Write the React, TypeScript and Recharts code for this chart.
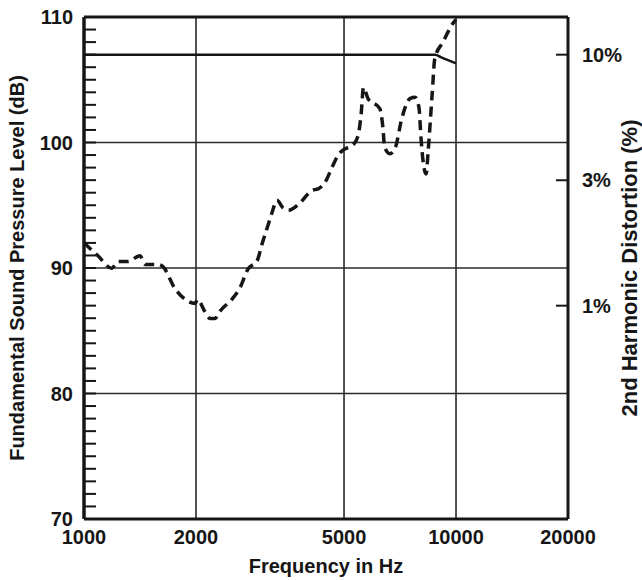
import { LineChart, Line, XAxis, YAxis, ReferenceLine, Label } from "recharts";

// axis ticks
const FREQ_TICKS = [1000, 2000, 5000, 10000, 20000];
const SPL_TICKS = Array.from({ length: 41 }, (_, i) => 70 + i); // 1 dB minor ticks
const DIST_TICKS = [1, 3.16, 10];
const DIST_LABELS = ["1%", "3%", "10%"];
const FREQ_GRID = [2000, 5000, 10000];
const SPL_GRID = [80, 90, 100];

// fundamental SPL (solid)
const fundFreq = [1000, 2000, 5000, 8800, 9100, 9450, 10000];
const fundSpl = [107, 107, 107, 107, 106.8, 106.6, 106.3];

// 2nd harmonic distortion in % (dashed)
const distFreq = [
  1000, 1090, 1187, 1234, 1313, 1414, 1459, 1580, 1630, 1756, 1870, 1990, 2020, 2110, 2180,
  2250, 2320, 2510, 2620, 2760, 2920, 3010, 3100, 3200, 3300, 3430, 3540, 3810, 4100, 4260,
  4440, 4640, 4820, 4970, 5290, 5460, 5560, 5640, 5800, 6240, 6360, 6430, 6640, 6850, 7160,
  7520, 7760, 7950, 8050, 8150, 8310, 8420, 8630, 8770, 9220, 9870, 10000,
];
const distPct = [
  1.78, 1.58, 1.41, 1.5, 1.5, 1.58, 1.46, 1.46, 1.43, 1.17, 1.06, 1.02, 1.06, 0.95, 0.89,
  0.89, 0.95, 1.07, 1.17, 1.4, 1.51, 1.76, 2.02, 2.34, 2.63, 2.45, 2.4, 2.57, 2.88, 2.92,
  3.09, 3.55, 3.98, 4.17, 4.37, 4.79, 5.82, 7.41, 6.68, 6.1, 5.13, 4.27, 4.03, 4.22, 5.62,
  6.68, 6.76, 6.17, 4.68, 3.8, 3.35, 4.17, 7.0, 9.66, 11.22, 13.49, 13.8,
];

const fundData = fundFreq.map((f, i) => ({ f, spl: fundSpl[i] }));
const distData = distFreq.map((f, i) => ({ f, pct: distPct[i] }));

const INK = "#161616";
const FONT = "'Liberation Sans', Arial, sans-serif";
const tickText = { fill: INK, fontSize: 20, fontWeight: 700, fontFamily: FONT };

export default function App() {
  return (
    <div style={{ position: "absolute", left: 0, top: 0, width: 642, height: 580, background: "#fff" }}>
      <LineChart width={642} height={580} margin={{ top: 17, right: 0, bottom: 0, left: 0 }}>
        <XAxis
          type="number"
          dataKey="f"
          scale="log"
          domain={[1000, 20000]}
          ticks={FREQ_TICKS}
          interval={0}
          allowDataOverflow
          height={61}
          tickSize={0}
          tickMargin={11}
          axisLine={{ stroke: INK, strokeWidth: 3 }}
          tick={tickText}
        >
          <Label
            value="Frequency in Hz"
            position="insideBottom"
            offset={7}
            fill={INK}
            fontSize={20}
            fontWeight={700}
            fontFamily={FONT}
          />
        </XAxis>
        <YAxis
          yAxisId="spl"
          type="number"
          domain={[70, 110]}
          ticks={SPL_TICKS}
          interval={0}
          width={84}
          tickSize={-12}
          tickMargin={23}
          tickLine={{ stroke: INK, strokeWidth: 2 }}
          tickFormatter={(v: number) => (v % 10 === 0 ? String(v) : "")}
          axisLine={{ stroke: INK, strokeWidth: 3.5 }}
          tick={tickText}
        >
          <Label
            value="Fundamental Sound Pressure Level (dB)"
            angle={-90}
            position="insideLeft"
            offset={17}
            fill={INK}
            fontSize={20}
            fontWeight={700}
            fontFamily={FONT}
            style={{ textAnchor: "middle" }}
          />
        </YAxis>
        <YAxis
          yAxisId="pct"
          orientation="right"
          type="number"
          scale="log"
          domain={[0.1413, 14.13]}
          allowDataOverflow
          ticks={DIST_TICKS}
          interval={0}
          width={74}
          tickSize={-12}
          tickMargin={26}
          tickLine={{ stroke: INK, strokeWidth: 2 }}
          tickFormatter={(v: number) => DIST_LABELS[DIST_TICKS.indexOf(v)]}
          axisLine={{ stroke: INK, strokeWidth: 3 }}
          tick={tickText}
        >
          <Label
            value="2nd Harmonic Distortion (%)"
            angle={-90}
            position="insideRight"
            offset={13}
            fill={INK}
            fontSize={22}
            fontWeight={700}
            fontFamily={FONT}
            style={{ textAnchor: "middle" }}
          />
        </YAxis>

        {SPL_GRID.map((v) => (
          <ReferenceLine key={"h" + v} yAxisId="spl" y={v} stroke="#2a2a2a" strokeWidth={1.6} />
        ))}
        {FREQ_GRID.map((v) => (
          <ReferenceLine key={"v" + v} yAxisId="spl" x={v} stroke="#2a2a2a" strokeWidth={1.6} />
        ))}
        <ReferenceLine yAxisId="spl" y={110} stroke={INK} strokeWidth={3} />

        <Line
          yAxisId="spl"
          data={fundData}
          dataKey="spl"
          type="monotone"
          stroke={INK}
          strokeWidth={2.5}
          dot={false}
          isAnimationActive={false}
        />
        <Line
          yAxisId="pct"
          data={distData}
          dataKey="pct"
          type="monotone"
          stroke={INK}
          strokeWidth={3.5}
          strokeDasharray="10 6"
          dot={false}
          isAnimationActive={false}
        />
      </LineChart>
    </div>
  );
}
